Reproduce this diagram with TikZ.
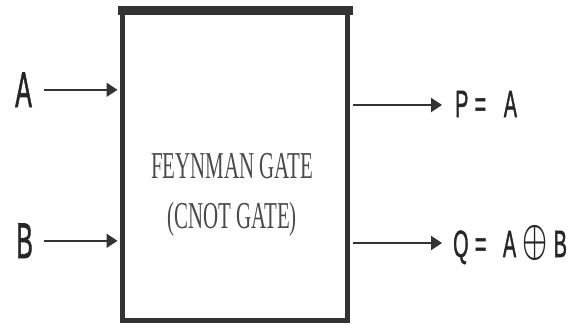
\documentclass[tikz,border=0pt]{standalone}
\usepackage{graphicx}
\usepackage{fontspec}
\setmainfont{Liberation Serif}
\newfontfamily\lblfont[FakeBold=1.6]{Liberation Sans}
\usetikzlibrary{arrows.meta}
\definecolor{ink}{HTML}{333333}
\definecolor{txt}{HTML}{262626}
\definecolor{gtxt}{HTML}{4A4A4A}
\newcommand\xorsym{\raisebox{3pt}{\scalebox{5.4}[4.6]{\fontsize{10}{12}\selectfont\boldmath$\oplus$}}}
\tikzset{
  arr/.style={draw=ink, line width=2pt, -{Triangle[length=11pt,width=14pt]}},
  inlbl/.style={inner sep=0pt, text=txt, font=\lblfont\fontsize{50}{50}\selectfont},
  outlbl/.style={inner sep=0pt, text=txt, font=\lblfont\fontsize{38}{38}\selectfont},
  gatebox/.style={draw=ink, line width=5pt, minimum width=225pt, minimum height=310pt, inner sep=0pt},
  gatetext/.style={inner sep=0pt, text=gtxt, align=center, font=\fontsize{38}{50}\selectfont}
}
\begin{document}
\begin{tikzpicture}[x=1pt,y=-1pt]
\useasboundingbox (0,0) rectangle (576,324);
% gate
\node[gatebox] (gate) at (235,165.5) {};
\fill[ink] ([xshift=-2.5pt,yshift=2.5pt]gate.north west) rectangle ([xshift=2.5pt,yshift=-6.5pt]gate.north east);
\node[gatetext] (gtext) at (232,195) {\scalebox{0.55}[1]{FEYNMAN GATE}\\\scalebox{0.55}[1]{(CNOT GATE)}};
% inputs
\node[inlbl, anchor=base west] (a) at (15,107) {\scalebox{0.5}[1]{A}};
\node[inlbl, anchor=base west] (b) at (16,258) {\scalebox{0.5}[1]{B}};
\draw[arr, shorten >=2.5pt] ([xshift=12pt]a.east) -- (a.east -| gate.west);
\draw[arr, shorten >=2.5pt] ([xshift=11pt]b.east) -- (b.east -| gate.west);
% outputs
\node[outlbl, anchor=base west] (p) at (455,117) {\scalebox{0.52}[1]{P\kern12pt=\kern34pt A}};
\node[outlbl, anchor=base west] (q) at (453,257) {\scalebox{0.52}[1]{Q\kern12pt=\kern32pt A\kern12pt\xorsym\kern12pt B}};
\coordinate (pend) at ([xshift=-13pt,yshift=12pt]p.base west);
\coordinate (qend) at ([xshift=-11pt,yshift=14pt]q.base west);
\draw[arr, shorten <=2.5pt] (pend -| gate.east) -- (pend);
\draw[arr, shorten <=2.5pt] (qend -| gate.east) -- (qend);
\end{tikzpicture}
\end{document}
